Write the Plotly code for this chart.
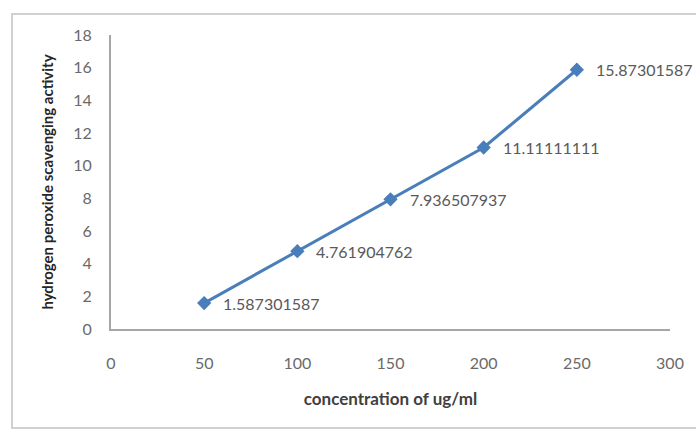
import plotly.graph_objects as go

# Hydrogen peroxide scavenging activity vs. concentration
concentration = [50, 100, 150, 200, 250]
activity = [1.587301587, 4.761904762, 7.936507937, 11.11111111, 15.87301587]
activity_labels = ["1.587301587", "4.761904762", "7.936507937", "11.11111111", "15.87301587"]

x_ticks = [0, 50, 100, 150, 200, 250, 300]
y_ticks = [0, 2, 4, 6, 8, 10, 12, 14, 16, 18]

W, H = 696, 429
L, R, T, B = 111, 26, 35, 100
pw, ph = W - L - R, H - T - B

def px_x(v):
    return (v - L) / pw

def px_y(v):
    return (H - B - v) / ph

line_color = "#4a7ebb"
axis_color = "#a6a6a6"
text_color = "#595959"
font_family = "Lato, 'Open Sans', sans-serif"

fig = go.Figure()
fig.add_trace(go.Scatter(
    x=concentration,
    y=activity,
    mode="lines+markers",
    line=dict(color=line_color, width=3),
    marker=dict(symbol="diamond", size=11, color=line_color),
    cliponaxis=False,
    showlegend=False,
))

# Value labels to the right of each point
for xv, yv, lab in zip(concentration, activity, activity_labels):
    fig.add_annotation(
        x=xv, y=yv, text=lab, showarrow=False,
        xanchor="left", yanchor="middle", xshift=17,
        font=dict(family=font_family, size=16, color=text_color),
    )

fig.update_xaxes(
    range=[0, 300],
    tickvals=x_ticks,
    ticktext=[str(v) for v in x_ticks],
    showgrid=False,
    zeroline=False,
    showline=True,
    linecolor=axis_color,
    linewidth=2,
    ticks="",
    ticklabelstandoff=19,
    tickfont=dict(family=font_family, size=16, color="#6a6a6a"),
    title=dict(text="<b>concentration of ug/ml</b>", standoff=22,
               font=dict(family=font_family, size=17, color="#404040")),
)
fig.update_yaxes(
    range=[0, 18],
    tickvals=y_ticks,
    ticktext=[str(v) for v in y_ticks],
    showgrid=False,
    zeroline=False,
    showline=True,
    linecolor=axis_color,
    linewidth=2,
    ticks="",
    ticklabelstandoff=14,
    tickfont=dict(family=font_family, size=16, color="#6a6a6a"),
    title=dict(text="<b>hydrogen peroxide scavenging activity</b>", standoff=16,
               font=dict(family=font_family, size=15, color="#262626")),
)

# Outer chart frame
fig.add_shape(
    type="rect", xref="paper", yref="paper",
    x0=px_x(12), x1=px_x(W + 10), y0=px_y(H - 1), y1=px_y(14),
    line=dict(color="#d0d0d0", width=2), fillcolor="rgba(0,0,0,0)",
    layer="below",
)

fig.update_layout(
    width=W, height=H,
    margin=dict(l=L, r=R, t=T, b=B),
    paper_bgcolor="white",
    plot_bgcolor="white",
)

fig.write_html("out.html")
